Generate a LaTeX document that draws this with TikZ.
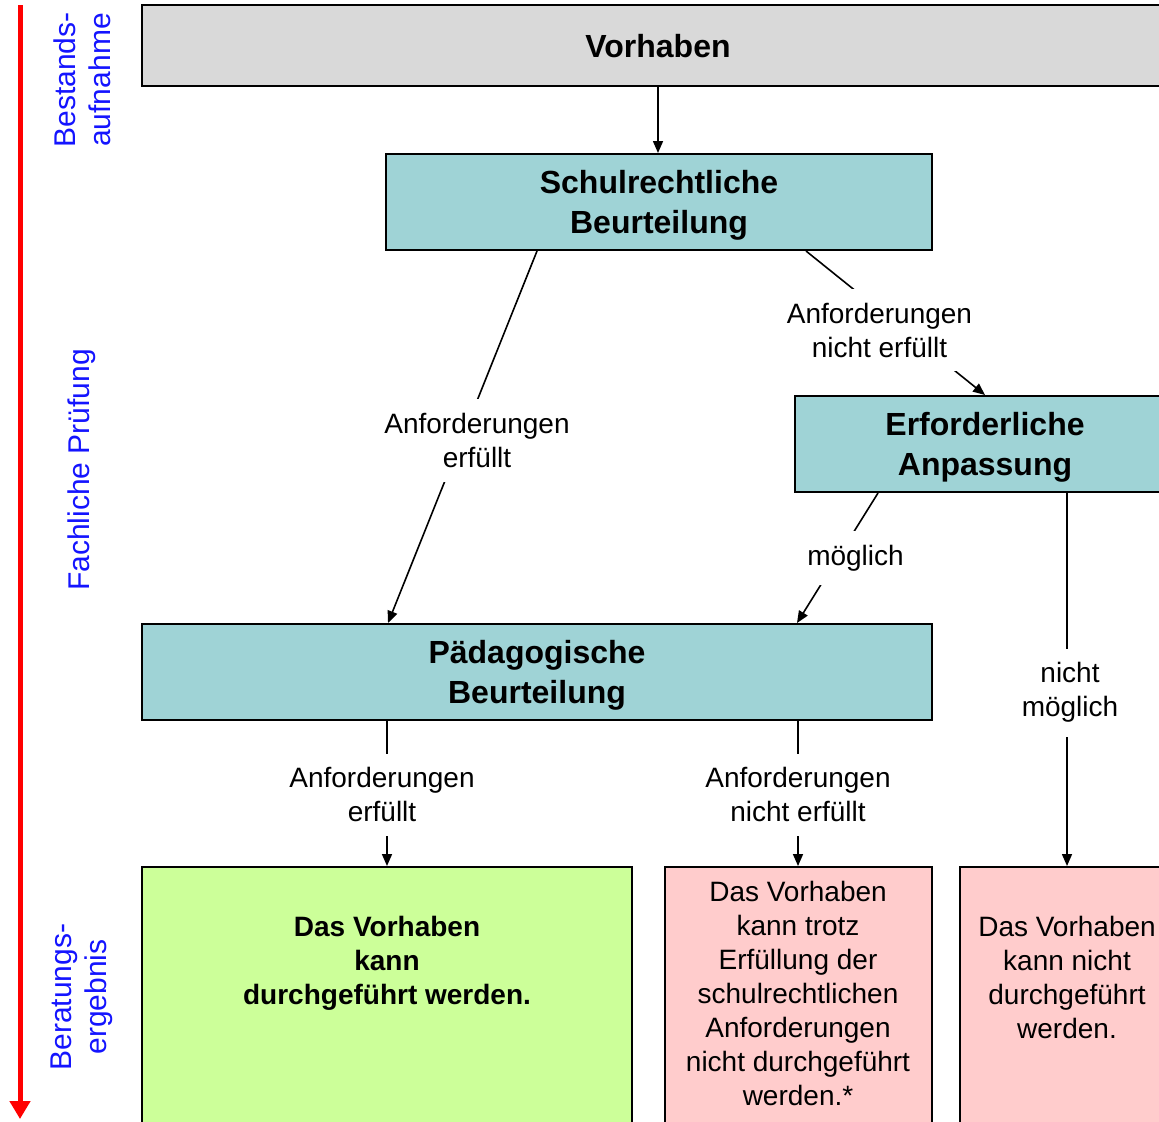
\documentclass[tikz,border=0pt]{standalone}
\usepackage{fontspec}
\setmainfont{Liberation Sans}
\usetikzlibrary{arrows.meta}
\definecolor{grau}{RGB}{217,217,217}
\definecolor{tuerkis}{RGB}{159,211,214}
\definecolor{gruen}{RGB}{204,255,153}
\definecolor{rosa}{RGB}{255,204,204}
\definecolor{blau}{RGB}{20,20,255}
\tikzset{stufe/.style={draw, line width=1pt, minimum height=48pt, text depth=0pt, align=center, font=\fontsize{16}{20}\selectfont\bfseries}}
\tikzset{ergebnis/.style={draw, line width=1pt, anchor=north, minimum height=140pt}}
\tikzset{ergebnistext/.style={inner sep=0pt, align=center, font=\fontsize{14}{17}\selectfont}}
\tikzset{pfeil/.style={line width=0.8pt, -{Triangle[length=6pt, width=5pt]}}}
\tikzset{bedingung/.style={fill=white, inner xsep=2pt, inner ysep=7pt, align=center, font=\fontsize{14}{17}\selectfont}}
\tikzset{phase/.style={rotate=90, align=center, text=blau, font=\fontsize{15}{17.5}\selectfont}}
\tikzset{zeitachse/.style={red, line width=2.5pt, -{Triangle[length=9pt, width=10pt]}}}

\begin{document}
\begin{tikzpicture}[x=0.5pt, y=-0.5pt]
            \useasboundingbox (0, 0) rectangle (1159, 1121);
            \coordinate (zeitanfang) at (20, 5);
            \coordinate (zeitende) at (20, 1119);
            \draw[zeitachse] (zeitanfang) -- (zeitende);
            \node[phase] (bestand) at (82, 80) {Bestands-\\aufnahme};
            \node[phase] (pruefung) at (82, 470) {Fachliche Prüfung};
            \node[phase] (beratung) at (82, 997) {Beratungs-\\ergebnis};
            \node[stufe, fill=grau, minimum width=516pt, minimum height=40.5pt] (vorhaben) at (658, 45.5) {Vorhaben};
            \node[stufe, fill=tuerkis, minimum width=273pt] (schulrecht) at (659, 202) {Schulrechtliche\\Beurteilung};
            \node[stufe, fill=tuerkis, minimum width=190pt] (anpassung) at (985, 444) {Erforderliche\\Anpassung};
            \node[stufe, fill=tuerkis, minimum width=395pt] (paedagogik) at (537, 672) {Pädagogische\\Beurteilung};
            \node[ergebnis, fill=gruen, minimum width=245pt] (machbar) at (387, 866) {};
            \node[ergebnis, fill=rosa, minimum width=133.5pt] (trotzdem) at (798, 866) {};
            \node[ergebnis, fill=rosa, minimum width=107pt] (unmoeglich) at (1067, 866) {};
            \node[ergebnistext, font=\fontsize{14}{17}\selectfont\bfseries, below=25pt] (machbartext) at (machbar.north) {Das Vorhaben\\kann\\durchgeführt werden.};
            \node[ergebnistext, below=7.5pt] (trotzdemtext) at (trotzdem.north) {Das Vorhaben\\kann trotz\\Erfüllung der\\schulrechtlichen\\Anforderungen\\nicht durchgeführt\\werden.*};
            \node[ergebnistext, below=25pt] (unmoeglichtext) at (unmoeglich.north) {Das Vorhaben\\kann nicht\\durchgeführt\\werden.};
            \draw[pfeil] (vorhaben.south) -- (vorhaben.south |- schulrecht.north);
            \draw[pfeil] ([xshift=-61pt]schulrecht.south) -- node[bedingung, pos=0.51, xshift=8pt] (erfuellta) {Anforderungen\\erfüllt} ([xshift=-74.5pt]paedagogik.north);
            \draw[pfeil] ([xshift=73.5pt]schulrecht.south) -- node[bedingung, pos=0.55, xshift=-12.5pt] (nichterfuellta) {Anforderungen\\nicht erfüllt} (anpassung.north);
            \draw[pfeil] ([xshift=-53.5pt]anpassung.south) -- node[bedingung, pos=0.5, xshift=9pt] (moeglich) {möglich} ([xshift=130pt]paedagogik.north);
            \draw[pfeil] ([xshift=41pt]anpassung.south) -- node[bedingung, pos=0.535, xshift=1.5pt] (nichtmoeglich) {nicht\\möglich} (unmoeglich.north);
            \draw[pfeil] ([xshift=-75pt]paedagogik.south) -- node[bedingung, pos=0.51, xshift=-2.5pt] (erfuelltb) {Anforderungen\\erfüllt} (machbar.north);
            \draw[pfeil] ([xshift=130.5pt]paedagogik.south) -- node[bedingung, pos=0.51] (nichterfuelltb) {Anforderungen\\nicht erfüllt} (trotzdem.north);
\end{tikzpicture}
\end{document}
